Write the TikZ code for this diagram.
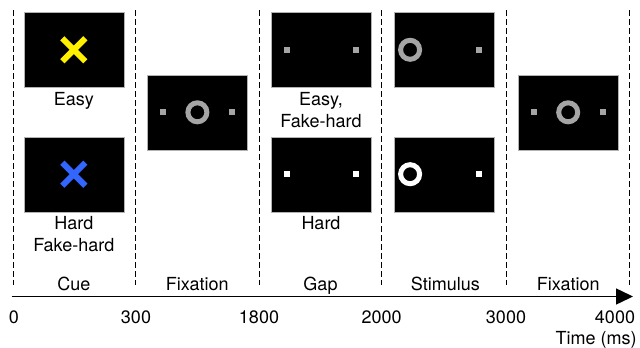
\documentclass[tikz,border=0pt]{standalone}
\usepackage{fontspec}
\setmainfont{TeX Gyre Heros}
\usetikzlibrary{positioning,shapes.misc,arrows.meta}
\definecolor{dotgray}{RGB}{165,165,165}
\definecolor{cueblue}{RGB}{51,102,255}
\definecolor{cueyellow}{RGB}{255,240,0}

\tikzstyle{screen} = [draw=gray!60,fill=black,rectangle,minimum width=100pt,minimum height=75pt,inner sep=0pt,node distance=123.6pt]
\tikzstyle{gdot}   = [fill=dotgray,rectangle,minimum size=6pt,inner sep=0pt]
\tikzstyle{wdot}   = [fill=white,rectangle,minimum size=6pt,inner sep=0pt]
\tikzstyle{gring}  = [draw=dotgray,circle,line width=5pt,minimum size=19pt,inner sep=0pt]
\tikzstyle{wring}  = [draw=white,circle,line width=5pt,minimum size=19pt,inner sep=0pt]
\tikzstyle{ycross} = [draw=cueyellow,cross out,line width=6pt,minimum size=17pt,inner sep=0pt]
\tikzstyle{bcross} = [draw=cueblue,cross out,line width=6pt,minimum size=17pt,inner sep=0pt]
\tikzstyle{txt}    = [font=\fontsize{18pt}{22pt}\selectfont,align=center,inner sep=0pt,node distance=4.5pt]
\tikzstyle{divider}= [dash pattern=on 6pt off 3pt,line width=0.9pt]
\tikzstyle{axis}   = [line width=1.5pt,-{Triangle[length=17pt,width=16pt]}]

\begin{document}
\begin{tikzpicture}[x=1pt,y=1pt]
			\useasboundingbox (0,0) rectangle (640,-348);
			% screens
			\node [screen] (cue 1) at (73.8,-49.8){};
			\node [screen,node distance=124.4pt,below of=cue 1](cue 2){};
			\node [screen,right of=cue 1,yshift=-62.5pt](fix 1){};
			\node [screen,right of=fix 1,yshift=62.5pt](gap 1){};
			\node [screen,node distance=124.4pt,below of=gap 1](gap 2){};
			\node [screen,right of=gap 1](stim 1){};
			\node [screen,node distance=124.4pt,below of=stim 1](stim 2){};
			\node [screen,right of=stim 1,yshift=-62.5pt](fix 2){};

			% what is shown on each screen
			\node [ycross] (cue 1 x) at (cue 1.center){};
			\node [bcross] (cue 2 x) at (cue 2.center){};
			\node [gdot]  (fix 1 l) at ([xshift=-34.5pt]fix 1.center){};
			\node [gring] (fix 1 o) at (fix 1.center){};
			\node [gdot]  (fix 1 r) at ([xshift=34.5pt]fix 1.center){};
			\node [gdot]  (gap 1 l) at ([xshift=-34.5pt]gap 1.center){};
			\node [gdot]  (gap 1 r) at ([xshift=34.5pt]gap 1.center){};
			\node [wdot]  (gap 2 l) at ([xshift=-34.5pt]gap 2.center){};
			\node [wdot]  (gap 2 r) at ([xshift=34.5pt]gap 2.center){};
			\node [gring] (stim 1 o) at ([xshift=-34.5pt]stim 1.center){};
			\node [gdot]  (stim 1 r) at ([xshift=34.5pt]stim 1.center){};
			\node [wring] (stim 2 o) at ([xshift=-34.5pt]stim 2.center){};
			\node [wdot]  (stim 2 r) at ([xshift=34.5pt]stim 2.center){};
			\node [gdot]  (fix 2 l) at ([xshift=-34.5pt]fix 2.center){};
			\node [gring] (fix 2 o) at (fix 2.center){};
			\node [gdot]  (fix 2 r) at ([xshift=34.5pt]fix 2.center){};

			% conditions
			\node [txt,below=of cue 1](cue 1 txt){Easy};
			\node [txt,below=of cue 2](cue 2 txt){Hard\\Fake-hard};
			\node [txt,below=of gap 1](gap 1 txt){Easy,\\Fake-hard};
			\node [txt,below=of gap 2](gap 2 txt){Hard};

			% phases
			\draw [divider] (13.5,-10) -- (13.5,-285);
			\draw [divider] (135.7,-10) -- (135.7,-285);
			\draw [divider] (259,-10) -- (259,-285);
			\draw [divider] (381.7,-10) -- (381.7,-285);
			\draw [divider] (506.5,-10) -- (506.5,-285);
			\draw [divider] (629.3,-10) -- (629.3,-285);
			\node [txt,anchor=base](ph cue) at (74,-290.5){Cue};
			\node [txt,anchor=base](ph fix 1) at (197.2,-290.5){Fixation};
			\node [txt,anchor=base](ph gap) at (320.5,-290.5){Gap};
			\node [txt,anchor=base](ph stim) at (445.3,-290.5){Stimulus};
			\node [txt,anchor=base](ph fix 2) at (568.3,-290.5){Fixation};

			% time axis
			\coordinate (ax start) at (11.7,-296.5);
			\coordinate (ax end) at (633,-296.5);
			\draw [axis] (ax start) -- (ax end);
			\node [txt,anchor=base](t 0) at (14,-323.3){0};
			\node [txt,anchor=base](t 300) at (136,-323.3){300};
			\node [txt,anchor=base](t 1800) at (259,-323.3){1800};
			\node [txt,anchor=base](t 2000) at (381.7,-323.3){2000};
			\node [txt,anchor=base](t 3000) at (506,-323.3){3000};
			\node [txt,anchor=base](t 4000) at (615,-323.3){4000};
			\node [txt,anchor=base east](t unit) at (636.7,-344.5){Time (ms)};
\end{tikzpicture}
\end{document}
